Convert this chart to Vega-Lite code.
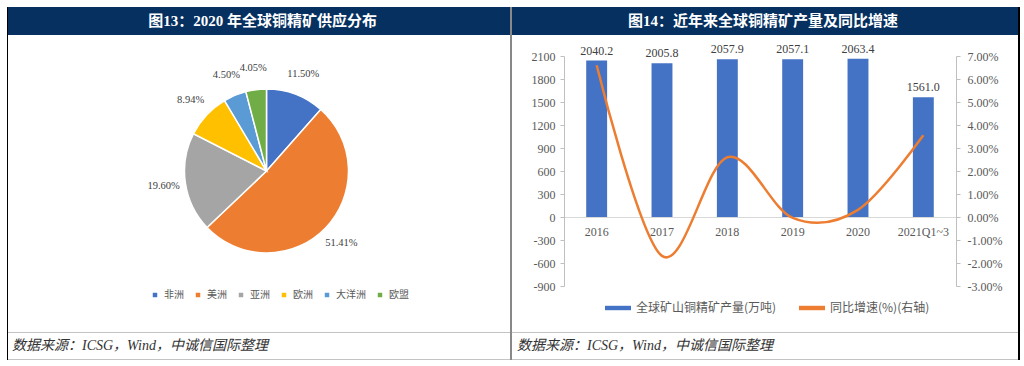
{
  "$schema": "https://vega.github.io/schema/vega-lite/v6.json",
  "padding": {"left": 7, "top": 7, "right": 4, "bottom": 6},
  "background": "white",
  "data": {"values": [{"a": 1}]},
  "columns": 8,
  "spacing": 0,
  "bounds": "flush",
  "resolve": {
    "scale": {"color": "independent", "x": "independent", "y": "independent", "theta": "independent"},
    "legend": {"color": "independent"},
    "axis": {"x": "independent", "y": "independent"}
  },
  "concat": [
    {"width": 1, "height": 28, "mark": "text", "encoding": {"text": {"value": ""}}, "view": {"fill": "#000000", "stroke": null}},
    {"width": 15, "height": 28, "mark": "text", "encoding": {"text": {"value": ""}}, "view": {"fill": "#05305f", "stroke": null}},
    {
      "width": 487, "height": 28,
      "mark": {"type": "text", "color": "white", "fontSize": 15, "fontWeight": "bold", "font": "Liberation Serif, Noto Sans CJK SC", "align": "center", "baseline": "middle", "dx": -4},
      "encoding": {"text": {"value": "图13：2020 年全球铜精矿供应分布"}},
      "view": {"fill": "#05305f", "stroke": null}
    },
    {"width": 2, "height": 28, "mark": "text", "encoding": {"text": {"value": ""}}, "view": {"fill": "#888888", "stroke": null}},
    {"width": 52, "height": 28, "mark": "text", "encoding": {"text": {"value": ""}}, "view": {"fill": "#05305f", "stroke": null}},
    {
      "width": 392, "height": 28,
      "mark": {"type": "text", "color": "white", "fontSize": 15, "fontWeight": "bold", "font": "Liberation Serif, Noto Sans CJK SC", "align": "center", "baseline": "middle", "dx": 3},
      "encoding": {"text": {"value": "图14：近年来全球铜精矿产量及同比增速"}},
      "view": {"fill": "#05305f", "stroke": null}
    },
    {"width": 62, "height": 28, "mark": "text", "encoding": {"text": {"value": ""}}, "view": {"fill": "#05305f", "stroke": null}},
    {"width": 2, "height": 28, "mark": "text", "encoding": {"text": {"value": ""}}, "view": {"fill": "#000000", "stroke": null}},

    {"width": 1, "height": 21, "mark": "text", "encoding": {"text": {"value": ""}}, "view": {"fill": "#000000", "stroke": null}},
    {"width": 15, "height": 21, "mark": "text", "encoding": {"text": {"value": ""}}},
    {"width": 487, "height": 21, "mark": "text", "encoding": {"text": {"value": ""}}},
    {"width": 2, "height": 21, "mark": "text", "encoding": {"text": {"value": ""}}, "view": {"fill": "#888888", "stroke": null}},
    {"width": 52, "height": 21, "mark": "text", "encoding": {"text": {"value": ""}}},
    {"width": 392, "height": 21, "mark": "text", "encoding": {"text": {"value": ""}}},
    {"width": 62, "height": 21, "mark": "text", "encoding": {"text": {"value": ""}}},
    {"width": 2, "height": 21, "mark": "text", "encoding": {"text": {"value": ""}}, "view": {"fill": "#000000", "stroke": null}},

    {"width": 1, "height": 230, "mark": "text", "encoding": {"text": {"value": ""}}, "view": {"fill": "#000000", "stroke": null}},
    {"width": 15, "height": 230, "mark": "text", "encoding": {"text": {"value": ""}}},
    {
      "width": 487, "height": 230,
      "data": {"values": [
        {"region": "非洲", "share": 0.1150, "k": 1},
        {"region": "美洲", "share": 0.5141, "k": 2},
        {"region": "亚洲", "share": 0.1960, "k": 3},
        {"region": "欧洲", "share": 0.0894, "k": 4},
        {"region": "大洋洲", "share": 0.0450, "k": 5},
        {"region": "欧盟", "share": 0.0405, "k": 6}
      ]},
      "layer": [
        {
          "mark": {"type": "arc", "outerRadius": 82, "stroke": "white", "strokeWidth": 1.5},
          "encoding": {
            "theta": {"field": "share", "type": "quantitative", "stack": true},
            "order": {"field": "k", "type": "quantitative"},
            "color": {
              "field": "region", "type": "nominal",
              "sort": ["非洲", "美洲", "亚洲", "欧洲", "大洋洲", "欧盟"],
              "scale": {
                "domain": ["非洲", "美洲", "亚洲", "欧洲", "大洋洲", "欧盟"],
                "range": ["#4472C4", "#ED7D31", "#A5A5A5", "#FFC000", "#5B9BD5", "#70AD47"]
              },
              "legend": {
                "orient": "none", "legendX": 127, "legendY": 234,
                "direction": "horizontal", "title": null,
                "symbolType": "square", "symbolSize": 20, "symbolStrokeWidth": 0,
                "labelFont": "Noto Sans CJK SC", "labelFontSize": 10, "labelColor": "#595959",
                "columnPadding": 9, "labelOffset": 4
              }
            }
          }
        },
        {
          "mark": {"type": "text", "radius": 104, "font": "Liberation Serif", "fontSize": 10.5, "color": "#404040"},
          "encoding": {
            "theta": {"field": "share", "type": "quantitative", "stack": true},
            "order": {"field": "k", "type": "quantitative"},
            "detail": {"field": "region", "type": "nominal"},
            "text": {"field": "share", "type": "quantitative", "format": ".2%"}
          }
        }
      ]
    },
    {"width": 2, "height": 230, "mark": "text", "encoding": {"text": {"value": ""}}, "view": {"fill": "#888888", "stroke": null}},
    {"width": 52, "height": 230, "mark": "text", "encoding": {"text": {"value": ""}}},
    {
      "width": 392, "height": 230,
      "data": {"values": [
        {"year": "2016", "output": 2040.2, "growth": 0.066},
        {"year": "2017", "output": 2005.8, "growth": -0.0169},
        {"year": "2018", "output": 2057.9, "growth": 0.026},
        {"year": "2019", "output": 2057.1, "growth": -0.0004},
        {"year": "2020", "output": 2063.4, "growth": 0.0031},
        {"year": "2021Q1~3", "output": 1561.0, "growth": 0.0355}
      ]},
      "resolve": {"scale": {"y": "independent"}},
      "layer": [
        {
          "layer": [
            {
              "mark": {"type": "bar"},
              "encoding": {
                "x": {
                  "field": "year", "type": "nominal", "sort": null,
                  "scale": {"paddingInner": 0.68, "paddingOuter": 0.34},
                  "axis": {
                    "orient": "bottom", "offset": -69, "title": null, "ticks": false,
                    "domainColor": "#d9d9d9", "labelAngle": 0,
                    "labelFont": "Liberation Serif", "labelFontSize": 12, "labelColor": "#595959",
                    "labelPadding": 9
                  }
                },
                "y": {
                  "field": "output", "type": "quantitative",
                  "scale": {"domain": [-900, 2100], "nice": false},
                  "axis": {
                    "orient": "left", "title": null, "grid": false, "labelExpr": "toString(datum.value)", "labelOverlap": false,
                    "values": [-900, -600, -300, 0, 300, 600, 900, 1200, 1500, 1800, 2100],
                    "domainColor": "#bfbfbf", "tickColor": "#bfbfbf", "tickSize": 4,
                    "labelFont": "Liberation Serif", "labelFontSize": 12, "labelColor": "#595959",
                    "labelPadding": 5
                  }
                },
                "color": {
                  "datum": "全球矿山铜精矿产量(万吨)",
                  "scale": {
                    "domain": ["全球矿山铜精矿产量(万吨)", "同比增速(%)(右轴)"],
                    "range": ["#4472C4", "#ED7D31"]
                  },
                  "legend": {
                    "orient": "none", "legendX": 41, "legendY": 239,
                    "direction": "horizontal", "title": null,
                    "symbolType": "M-1,-0.17H1V0.17H-1Z", "symbolSize": 676,
                    "labelFont": "Noto Sans CJK SC", "labelFontSize": 12, "labelColor": "#595959",
                    "columnPadding": 22, "labelOffset": 5, "labelLimit": 300,
                    "encode": {
                      "symbols": {
                        "update": {
                          "fill": {"scale": "color", "field": "value"},
                          "stroke": {"value": "transparent"},
                          "strokeWidth": {"value": 0},
                          "opacity": {"value": 1}
                        }
                      }
                    }
                  }
                }
              }
            },
            {
              "mark": {"type": "text", "baseline": "bottom", "dy": -3, "font": "Liberation Serif", "fontSize": 12, "color": "#404040"},
              "encoding": {
                "x": {
                  "field": "year", "type": "nominal", "sort": null,
                  "axis": {
                    "orient": "bottom", "offset": -69, "title": null, "ticks": false,
                    "domainColor": "#d9d9d9", "labelAngle": 0,
                    "labelFont": "Liberation Serif", "labelFontSize": 12, "labelColor": "#595959",
                    "labelPadding": 9
                  }
                },
                "y": {
                  "field": "output", "type": "quantitative",
                  "axis": {
                    "orient": "left", "title": null, "grid": false, "labelExpr": "toString(datum.value)", "labelOverlap": false,
                    "values": [-900, -600, -300, 0, 300, 600, 900, 1200, 1500, 1800, 2100],
                    "domainColor": "#bfbfbf", "tickColor": "#bfbfbf", "tickSize": 4,
                    "labelFont": "Liberation Serif", "labelFontSize": 12, "labelColor": "#595959",
                    "labelPadding": 5
                  }
                },
                "text": {"field": "output", "type": "quantitative", "format": ".1f"}
              }
            }
          ]
        },
        {
          "mark": {"type": "line", "interpolate": "cardinal", "strokeWidth": 2.5},
          "encoding": {
            "x": {
              "field": "year", "type": "nominal", "sort": null,
              "axis": {
                "orient": "bottom", "offset": -69, "title": null, "ticks": false,
                "domainColor": "#d9d9d9", "labelAngle": 0,
                "labelFont": "Liberation Serif", "labelFontSize": 12, "labelColor": "#595959",
                "labelPadding": 9
              }
            },
            "y": {
              "field": "growth", "type": "quantitative",
              "scale": {"domain": [-0.03, 0.07], "nice": false},
              "axis": {
                "orient": "right", "title": null, "grid": false, "format": ".2%", "labelOverlap": false,
                "labelExpr": "replace(datum.label, '\u2212', '-')",
                "values": [-0.03, -0.02, -0.01, 0, 0.01, 0.02, 0.03, 0.04, 0.05, 0.06, 0.07],
                "domainColor": "#bfbfbf", "tickColor": "#bfbfbf", "tickSize": 4,
                "labelFont": "Liberation Serif", "labelFontSize": 12, "labelColor": "#595959",
                "labelPadding": 7
              }
            },
            "color": {"datum": "同比增速(%)(右轴)"}
          }
        }
      ]
    },
    {"width": 62, "height": 230, "mark": "text", "encoding": {"text": {"value": ""}}},
    {"width": 2, "height": 230, "mark": "text", "encoding": {"text": {"value": ""}}, "view": {"fill": "#000000", "stroke": null}},

    {"width": 1, "height": 46, "mark": "text", "encoding": {"text": {"value": ""}}, "view": {"fill": "#000000", "stroke": null}},
    {"width": 15, "height": 46, "mark": "text", "encoding": {"text": {"value": ""}}},
    {"width": 487, "height": 46, "mark": "text", "encoding": {"text": {"value": ""}}},
    {"width": 2, "height": 46, "mark": "text", "encoding": {"text": {"value": ""}}, "view": {"fill": "#888888", "stroke": null}},
    {"width": 52, "height": 46, "mark": "text", "encoding": {"text": {"value": ""}}},
    {"width": 392, "height": 46, "mark": "text", "encoding": {"text": {"value": ""}}},
    {"width": 62, "height": 46, "mark": "text", "encoding": {"text": {"value": ""}}},
    {"width": 2, "height": 46, "mark": "text", "encoding": {"text": {"value": ""}}, "view": {"fill": "#000000", "stroke": null}},

    {"width": 1, "height": 1, "mark": "text", "encoding": {"text": {"value": ""}}, "view": {"fill": "#000000", "stroke": null}},
    {"width": 15, "height": 1, "mark": "text", "encoding": {"text": {"value": ""}}, "view": {"fill": "#c4c4c4", "stroke": null}},
    {"width": 487, "height": 1, "mark": "text", "encoding": {"text": {"value": ""}}, "view": {"fill": "#c4c4c4", "stroke": null}},
    {"width": 2, "height": 1, "mark": "text", "encoding": {"text": {"value": ""}}, "view": {"fill": "#888888", "stroke": null}},
    {"width": 52, "height": 1, "mark": "text", "encoding": {"text": {"value": ""}}, "view": {"fill": "#c4c4c4", "stroke": null}},
    {"width": 392, "height": 1, "mark": "text", "encoding": {"text": {"value": ""}}, "view": {"fill": "#c4c4c4", "stroke": null}},
    {"width": 62, "height": 1, "mark": "text", "encoding": {"text": {"value": ""}}, "view": {"fill": "#c4c4c4", "stroke": null}},
    {"width": 2, "height": 1, "mark": "text", "encoding": {"text": {"value": ""}}, "view": {"fill": "#000000", "stroke": null}},

    {"width": 1, "height": 26, "mark": "text", "encoding": {"text": {"value": ""}}, "view": {"fill": "#000000", "stroke": null}},
    {
      "width": 15, "height": 26,
      "mark": {"type": "text", "align": "left", "baseline": "middle", "fontStyle": "italic", "fontSize": 14, "font": "Liberation Serif, Noto Sans CJK SC", "color": "#333333"},
      "encoding": {"text": {"value": "数据来源：ICSG，Wind，中诚信国际整理"}, "x": {"value": 4}}
    },
    {"width": 487, "height": 26, "mark": "text", "encoding": {"text": {"value": ""}}},
    {"width": 2, "height": 26, "mark": "text", "encoding": {"text": {"value": ""}}, "view": {"fill": "#888888", "stroke": null}},
    {
      "width": 52, "height": 26,
      "mark": {"type": "text", "align": "left", "baseline": "middle", "fontStyle": "italic", "fontSize": 14, "font": "Liberation Serif, Noto Sans CJK SC", "color": "#333333"},
      "encoding": {"text": {"value": "数据来源：ICSG，Wind，中诚信国际整理"}, "x": {"value": 5}}
    },
    {"width": 392, "height": 26, "mark": "text", "encoding": {"text": {"value": ""}}},
    {"width": 62, "height": 26, "mark": "text", "encoding": {"text": {"value": ""}}},
    {"width": 2, "height": 26, "mark": "text", "encoding": {"text": {"value": ""}}, "view": {"fill": "#000000", "stroke": null}},

    {"width": 1, "height": 1, "mark": "text", "encoding": {"text": {"value": ""}}, "view": {"fill": "#000000", "stroke": null}},
    {"width": 15, "height": 1, "mark": "text", "encoding": {"text": {"value": ""}}, "view": {"fill": "#c4c4c4", "stroke": null}},
    {"width": 487, "height": 1, "mark": "text", "encoding": {"text": {"value": ""}}, "view": {"fill": "#c4c4c4", "stroke": null}},
    {"width": 2, "height": 1, "mark": "text", "encoding": {"text": {"value": ""}}, "view": {"fill": "#888888", "stroke": null}},
    {"width": 52, "height": 1, "mark": "text", "encoding": {"text": {"value": ""}}, "view": {"fill": "#c4c4c4", "stroke": null}},
    {"width": 392, "height": 1, "mark": "text", "encoding": {"text": {"value": ""}}, "view": {"fill": "#c4c4c4", "stroke": null}},
    {"width": 62, "height": 1, "mark": "text", "encoding": {"text": {"value": ""}}, "view": {"fill": "#c4c4c4", "stroke": null}},
    {"width": 2, "height": 1, "mark": "text", "encoding": {"text": {"value": ""}}, "view": {"fill": "#000000", "stroke": null}}
  ],
  "config": {
    "view": {"stroke": null},
    "font": "Noto Sans CJK SC"
  }
}
